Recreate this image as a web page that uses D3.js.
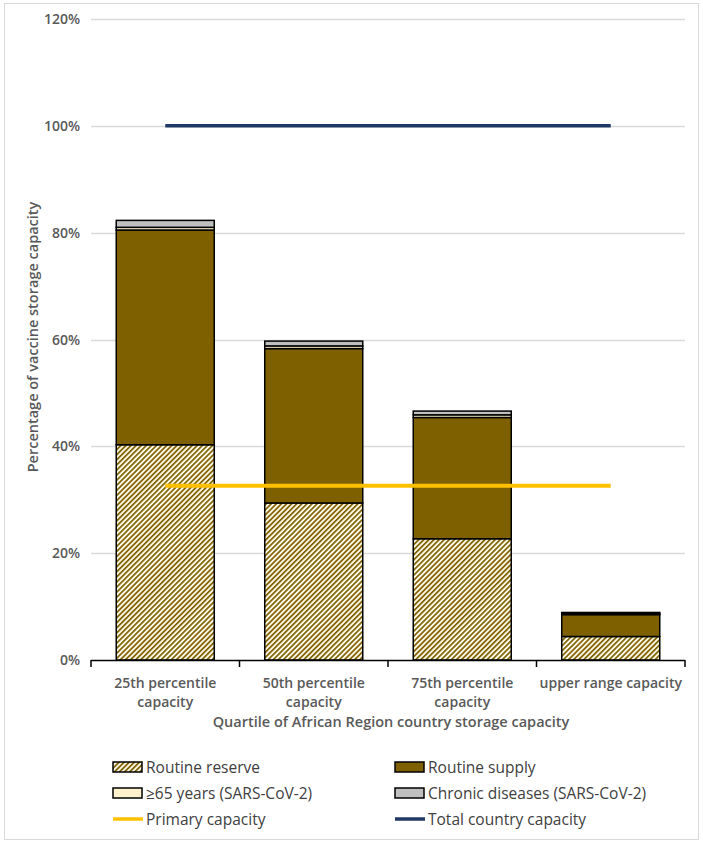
<html>
<head>
<script src="https://d3js.org/d3.v7.min.js"></script>
<style>
body { margin: 0; background: #fff; font-family: 'Open Sans', 'Noto Sans', sans-serif; }
</style>
</head>
<body>
<svg width="703" height="844"></svg>
<script>
// values (percent of total country capacity)
var categories = ["25th percentile capacity", "50th percentile capacity", "75th percentile capacity", "upper range capacity"];
var catLines = [["25th percentile", "capacity"], ["50th percentile", "capacity"], ["75th percentile", "capacity"], ["upper range capacity"]];
var routineReserve = [40.3, 29.4, 22.7, 4.4];
var routineSupply = [40.2, 28.9, 22.7, 4.1];
var over65 = [0.5, 0.5, 0.5, 0.2];
var chronic = [1.3, 0.9, 0.7, 0.2];
var primaryCapacity = [32.6, 32.6, 32.6, 32.6];
var totalCapacity = [100, 100, 100, 100];
var yTicks = [0, 20, 40, 60, 80, 100, 120];

var seriesNames = ["Routine reserve", "Routine supply", "\u226565 years (SARS-CoV-2)", "Chronic diseases (SARS-CoV-2)"];
var seriesFill = ["url(#hatch)", "#7f6000", "#fff2cc", "#bfbfbf"];

var svg = d3.select("svg");

// hatch pattern for routine reserve
var defs = svg.append("defs");
var pat = defs.append("pattern")
  .attr("id", "hatch")
  .attr("patternUnits", "userSpaceOnUse")
  .attr("width", 3.6).attr("height", 3.6)
  .attr("patternTransform", "rotate(45)");
pat.append("rect").attr("width", 3.6).attr("height", 3.6).attr("fill", "#fffbea");
pat.append("rect").attr("width", 1.7).attr("height", 3.6).attr("fill", "#7f6000");

// chart border
svg.append("rect")
  .attr("x", 4.5).attr("y", 3.5).attr("width", 694).attr("height", 836)
  .attr("fill", "none").attr("stroke", "#d9d9d9");

var x = d3.scaleBand().domain(categories).range([91, 685]).paddingInner(0.34).paddingOuter(0.17);
var y = d3.scaleLinear().domain([0, 120]).range([660, 19]);

// gridlines
svg.append("g").selectAll("line").data(yTicks.slice(1)).join("line")
  .attr("x1", 91).attr("x2", 685)
  .attr("y1", function (d) { return Math.round(y(d)) + 0.5; })
  .attr("y2", function (d) { return Math.round(y(d)) + 0.5; })
  .attr("stroke", "#d9d9d9").attr("stroke-width", 1.3);

// y tick labels
svg.append("g").selectAll("text").data(yTicks).join("text")
  .attr("x", 80).attr("y", function (d) { return y(d) + 5; })
  .attr("text-anchor", "end")
  .attr("font-size", 14).attr("font-weight", 600).attr("fill", "#595959")
  .text(function (d) { return d + "%"; });

// stacked bars
var table = categories.map(function (c, i) {
  return { cat: c, s0: routineReserve[i], s1: routineSupply[i], s2: over65[i], s3: chronic[i] };
});
var stack = d3.stack().keys(["s0", "s1", "s2", "s3"])(table);

svg.append("g").selectAll("g").data(stack).join("g")
  .attr("fill", function (d, i) { return seriesFill[i]; })
  .selectAll("rect").data(function (d) { return d; }).join("rect")
  .attr("x", function (d) { return x(d.data.cat); })
  .attr("width", x.bandwidth())
  .attr("y", function (d) { return y(d[1]); })
  .attr("height", function (d) { return y(d[0]) - y(d[1]); })
  .attr("stroke", "#000").attr("stroke-width", 1.5);

// x axis line and ticks
var xAxis = svg.append("g").attr("stroke", "#000").attr("stroke-width", 1.5);
xAxis.append("line").attr("x1", 91).attr("x2", 685).attr("y1", 660.5).attr("y2", 660.5);
var bounds = [91].concat(categories.map(function (c) { return x(c) + x.bandwidth() + x.step() * x.paddingInner() / 2; }));
bounds[bounds.length - 1] = 685;
xAxis.selectAll("line.tk").data(bounds).join("line").attr("class", "tk")
  .attr("x1", function (d) { return d; }).attr("x2", function (d) { return d; })
  .attr("y1", 660).attr("y2", 667);

// category labels
var catG = svg.append("g").selectAll("text").data(categories).join("text")
  .attr("x", function (d) { return x(d) + x.bandwidth() / 2; })
  .attr("y", 688)
  .attr("text-anchor", "middle")
  .attr("font-size", 14).attr("font-weight", 600).attr("fill", "#595959");
catG.selectAll("tspan").data(function (d, i) { return catLines[i]; }).join("tspan")
  .attr("x", function () { var p = this.parentNode; return p.getAttribute("x"); })
  .attr("dy", function (d, i) { return i === 0 ? 0 : 19; })
  .text(function (d) { return d; });

// lines
var lineGen = d3.line()
  .x(function (d, i) { return x(categories[i]) + x.bandwidth() / 2; })
  .y(function (d) { return y(d); });
svg.append("path").datum(primaryCapacity).attr("d", lineGen)
  .attr("fill", "none").attr("stroke", "#ffc000").attr("stroke-width", 4);
svg.append("path").datum(totalCapacity).attr("d", lineGen)
  .attr("fill", "none").attr("stroke", "#203864").attr("stroke-width", 3.5);

// axis titles
svg.append("text")
  .attr("transform", "translate(38," + 337 + ") rotate(-90)")
  .attr("text-anchor", "middle")
  .attr("font-size", 14.5).attr("font-weight", 600).attr("fill", "#595959")
  .text("Percentage of vaccine storage capacity");
svg.append("text")
  .attr("x", 391).attr("y", 727)
  .attr("text-anchor", "middle")
  .attr("font-size", 14.5).attr("font-weight", 600).attr("fill", "#595959")
  .text("Quartile of African Region country storage capacity");

// legend
var legendItems = [
  { name: seriesNames[0], type: "box", fill: seriesFill[0] },
  { name: seriesNames[1], type: "box", fill: seriesFill[1] },
  { name: seriesNames[2], type: "box", fill: seriesFill[2] },
  { name: seriesNames[3], type: "box", fill: seriesFill[3] },
  { name: "Primary capacity", type: "line", fill: "#ffc000" },
  { name: "Total country capacity", type: "line", fill: "#203864" }
];
var lg = svg.append("g").selectAll("g").data(legendItems).join("g")
  .attr("transform", function (d, i) {
    return "translate(" + (i % 2 === 0 ? 113 : 395) + "," + (767 + Math.floor(i / 2) * 26) + ")";
  });
lg.filter(function (d) { return d.type === "box"; }).append("rect")
  .attr("x", 0).attr("y", -5).attr("width", 29).attr("height", 10)
  .attr("fill", function (d) { return d.fill; })
  .attr("stroke", "#000").attr("stroke-width", 1.5);
lg.filter(function (d) { return d.type === "line"; }).append("line")
  .attr("x1", 0).attr("x2", 30).attr("y1", 0).attr("y2", 0)
  .attr("stroke", function (d) { return d.fill; }).attr("stroke-width", 3.5);
lg.append("text")
  .attr("x", 33).attr("y", 5.5)
  .attr("font-size", 15.5).attr("fill", "#404040")
  .text(function (d) { return d.name; });
</script>
</body>
</html>
